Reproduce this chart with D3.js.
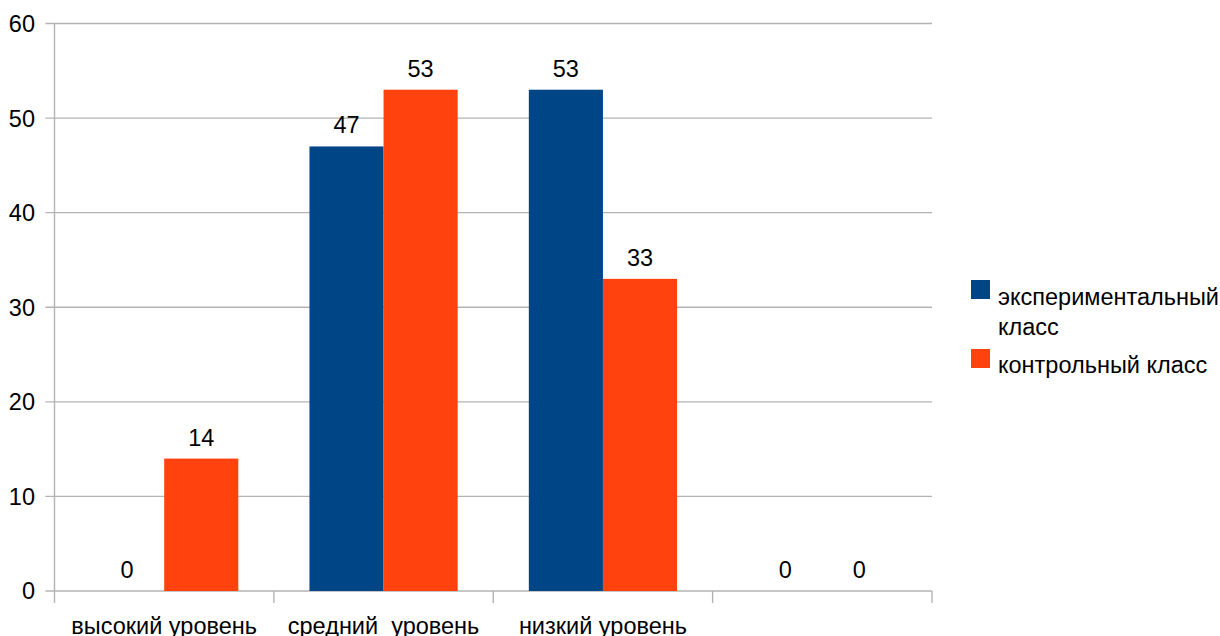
<!DOCTYPE html>
<html><head><meta charset="utf-8">
<script src="https://cdn.jsdelivr.net/npm/d3@7"></script>
<style>body{margin:0;background:#fff}svg{display:block}text{font-family:"Liberation Sans",Arial,sans-serif;fill:#000}</style>
</head><body><svg id="c" width="1220" height="636"></svg>
<script>
const categories = ["высокий уровень", "средний  уровень", "низкий уровень", ""];
const seriesNames = ["экспериментальный класс", "контрольный класс"];
const experimental = [0, 47, 53, 0];
const control = [14, 53, 33, 0];
const yTicks = [0, 10, 20, 30, 40, 50, 60];
const colors = ["#004586", "#ff420e"];

const svg = d3.select("#c");
const m = {l: 54.5, r: 932, t: 23.5, b: 591};
const x = d3.scaleBand().domain(categories.map((d,i)=>i)).range([m.l, m.r]).paddingInner(0).paddingOuter(0);
const xs = d3.scaleBand().domain([0,1]).range([0, x.bandwidth()]).paddingInner(0).paddingOuter(0.48);
const y = d3.scaleLinear().domain([0, 60]).range([m.b, m.t]);
const grid = "#b3b3b3";
const fs = 23.5;

svg.append("g").selectAll("line").data(yTicks).join("line")
  .attr("x1", m.l - 9).attr("x2", m.r).attr("y1", d=>y(d)).attr("y2", d=>y(d))
  .attr("stroke", grid).attr("stroke-width", 1.4);
svg.append("line").attr("x1", m.l).attr("x2", m.l).attr("y1", m.t).attr("y2", m.b + 12)
  .attr("stroke", grid).attr("stroke-width", 1.4);
svg.append("g").selectAll("line").data(categories.map((d,i)=>i)).join("line")
  .attr("x1", d=>x(d)+x.bandwidth()).attr("x2", d=>x(d)+x.bandwidth())
  .attr("y1", m.b).attr("y2", m.b + 12).attr("stroke", grid).attr("stroke-width", 1.4);
svg.append("g").selectAll("text").data(yTicks).join("text")
  .attr("x", 35).attr("y", d=>y(d)).attr("dy", "0.36em").attr("text-anchor", "end")
  .attr("font-size", fs).text(d=>d);

const series = [experimental, control];
series.forEach((vals, si) => {
  const g = svg.append("g");
  g.selectAll("rect").data(vals).join("rect")
    .attr("x", (d,i)=>x(i)+xs(si)).attr("width", xs.bandwidth())
    .attr("y", d=>y(d)).attr("height", d=>y(0)-y(d)).attr("fill", colors[si]);
  g.selectAll("text").data(vals).join("text")
    .attr("x", (d,i)=>x(i)+xs(si)+xs.bandwidth()/2).attr("y", d=>y(d)-13)
    .attr("text-anchor", "middle").attr("font-size", fs).text(d=>d);
});

svg.append("g").selectAll("text").data(categories).join("text")
  .attr("x", (d,i)=>x(i)+x.bandwidth()/2).attr("y", 634)
  .attr("text-anchor", "middle").attr("font-size", fs).style("white-space","pre").text(d=>d);

const lg = svg.append("g");
lg.append("rect").attr("x", 971).attr("y", 280).attr("width", 19).attr("height", 19).attr("fill", colors[0]);
lg.append("text").attr("x", 998).attr("y", 305).attr("font-size", fs).text("экспериментальный");
lg.append("text").attr("x", 998).attr("y", 335).attr("font-size", fs).text("класс");
lg.append("rect").attr("x", 971).attr("y", 349).attr("width", 19).attr("height", 19).attr("fill", colors[1]);
lg.append("text").attr("x", 998).attr("y", 373).attr("font-size", fs).text(seriesNames[1]);
</script></body></html>
